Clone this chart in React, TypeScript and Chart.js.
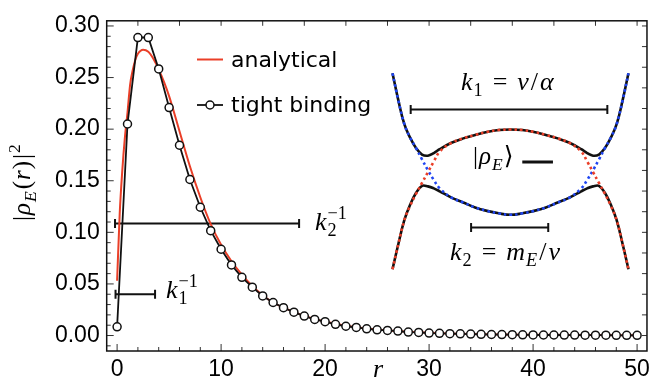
import React, { useEffect, useRef } from "react";
import { Chart, registerables } from "chart.js";

Chart.register(...registerables);

// ---------- main plot data ----------
const tightR = [
  0, 1, 2, 3, 4, 5, 6, 7, 8, 9, 10, 11, 12, 13, 14, 15, 16, 17, 18, 19, 20, 21, 22, 23, 24, 25,
  26, 27, 28, 29, 30, 31, 32, 33, 34, 35, 36, 37, 38, 39, 40, 41, 42, 43, 44, 45, 46, 47, 48, 49, 50,
];
const tightRho = [
  0.0084, 0.205, 0.2888, 0.2888, 0.2584, 0.2209, 0.1844, 0.1512, 0.1243, 0.1016, 0.0836, 0.0684,
  0.0564, 0.0469, 0.0384, 0.032, 0.027, 0.0226, 0.0188, 0.0156, 0.0134, 0.0109, 0.009, 0.0078,
  0.0065, 0.0055, 0.0049, 0.0043, 0.0033, 0.003, 0.0024, 0.0021, 0.0018, 0.0016, 0.0014, 0.0012,
  0.001, 0.0009, 0.0008, 0.0007, 0.0006, 0.0005, 0.0005, 0.0004, 0.0004, 0.0003, 0.0003, 0.0003,
  0.0002, 0.0002, 0.0002,
];
const analyticR = [
  0, 0.25, 0.5, 0.75, 1, 1.25, 1.5, 1.75, 2, 2.5, 3, 3.5, 4, 4.5, 5, 6, 7, 8, 9, 10, 11, 12, 13, 14,
  15, 16, 18, 20, 22, 25, 30, 35, 40, 45, 50,
];
const analyticRho = [
  0.053, 0.118, 0.16, 0.192, 0.216, 0.243, 0.257, 0.267, 0.273, 0.277, 0.275, 0.268, 0.258, 0.246,
  0.232, 0.198, 0.164, 0.134, 0.108, 0.088, 0.072, 0.059, 0.048, 0.039, 0.032, 0.027, 0.019, 0.0135,
  0.0095, 0.0058, 0.0026, 0.0013, 0.0007, 0.0004, 0.0002,
];
const xTickValues = [0, 10, 20, 30, 40, 50];
const yTickValues = [0, 0.05, 0.1, 0.15, 0.2, 0.25, 0.3];

// length-scale markers (r range, level)
const k2InvR = [-0.2, 17.5];
const k2InvLevel = 0.1085;
const k1InvR = [-0.15, 3.65];
const k1InvLevel = 0.04;

// ---------- inset (band sketch) data, in its own k / E units ----------
const insetK = [
  -1, -0.95, -0.9, -0.85, -0.8, -0.75, -0.7, -0.65, -0.6, -0.5, -0.4, -0.3, -0.2, -0.1, 0, 0.1, 0.2,
  0.3, 0.4, 0.5, 0.6, 0.65, 0.7, 0.75, 0.8, 0.85, 0.9, 0.95, 1,
];
const upperBand = [
  1.0, 0.72, 0.48, 0.34, 0.235, 0.17, 0.158, 0.185, 0.225, 0.29, 0.335, 0.37, 0.4, 0.42, 0.425,
  0.42, 0.4, 0.37, 0.335, 0.29, 0.225, 0.185, 0.158, 0.17, 0.235, 0.34, 0.48, 0.72, 1.0,
];
const lowerBand = [
  -1.0, -0.74, -0.5, -0.34, -0.22, -0.15, -0.155, -0.175, -0.205, -0.27, -0.32, -0.37, -0.405,
  -0.43, -0.445, -0.43, -0.405, -0.37, -0.32, -0.27, -0.205, -0.175, -0.155, -0.15, -0.22, -0.34,
  -0.5, -0.74, -1.0,
];
const redBranch = [
  -1.0, -0.74, -0.5, -0.35, -0.23, -0.12, -0.01, 0.1, 0.2, 0.29, 0.335, 0.37, 0.4, 0.42, 0.425,
  0.42, 0.4, 0.37, 0.335, 0.29, 0.2, 0.1, -0.01, -0.12, -0.23, -0.35, -0.5, -0.74, -1.0,
];
const blueBranch = [
  1.0, 0.72, 0.48, 0.34, 0.235, 0.12, 0.01, -0.09, -0.175, -0.27, -0.32, -0.37, -0.405, -0.43,
  -0.445, -0.43, -0.405, -0.37, -0.32, -0.27, -0.175, -0.09, 0.01, 0.12, 0.235, 0.34, 0.48, 0.72,
  1.0,
];
const k1BarK = [-0.846, 0.821];
const k1BarE = 0.63;
const k2BarK = [-0.334, 0.32];
const k2BarE = -0.575;
const levelK = [0.1, 0.36];
const levelE = 0.095;

const SANS = '"Liberation Sans", Arial, sans-serif';
const LEG = '"DejaVu Sans", sans-serif';
const SERIF = '"Liberation Serif", "DejaVu Serif", serif';
const RED = "#ea3f28";
const BLUE = "#1f45f2";
const INK = "#111";

type Seg = { t?: string; it?: boolean; sub?: string; subIt?: boolean; sup?: string; pre?: number };

function drawMath(ctx: CanvasRenderingContext2D, x: number, y: number, segs: Seg[], size: number) {
  let cx = x;
  ctx.textBaseline = "alphabetic";
  ctx.textAlign = "left";
  for (const s of segs) {
    cx += s.pre || 0;
    if (s.t) {
      ctx.font = `${s.it ? "italic " : ""}${size}px ${SERIF}`;
      ctx.fillText(s.t, cx, y);
      cx += ctx.measureText(s.t).width;
    }
    const small = size * 0.7;
    let w = 0;
    if (s.sub) {
      ctx.font = `${s.subIt ? "italic " : ""}${small}px ${SERIF}`;
      ctx.fillText(s.sub, cx + 1, y + size * 0.22);
      w = Math.max(w, ctx.measureText(s.sub).width + 1);
    }
    if (s.sup) {
      ctx.font = `${small}px ${SERIF}`;
      ctx.fillText(s.sup, cx + 1, y - size * 0.42);
      w = Math.max(w, ctx.measureText(s.sup).width + 1);
    }
    cx += w;
  }
  return cx - x;
}

const decorPlugin = {
  id: "decor",
  afterDraw(chart: any) {
    const ctx: CanvasRenderingContext2D = chart.ctx;
    const ca = chart.chartArea;
    const xs = chart.scales.x;
    const ys = chart.scales.y;
    ctx.save();
    // inward ticks
    ctx.strokeStyle = "#333";
    ctx.lineWidth = 1;
    const line = (x1: number, y1: number, x2: number, y2: number) => {
      ctx.beginPath();
      ctx.moveTo(x1, y1);
      ctx.lineTo(x2, y2);
      ctx.stroke();
    };
    for (let i = -1; i <= 30; i++) {
      const py = ys.getPixelForValue(i / 100);
      if (py < ca.top || py > ca.bottom) continue;
      line(ca.left, py, ca.left + (i % 5 === 0 ? 7 : 4), py);
    }
    for (let i = 0; i <= 30; i += 2) {
      const py = ys.getPixelForValue(i / 100);
      if (py < ca.top || py > ca.bottom) continue;
      line(ca.right, py, ca.right - 5, py);
    }
    for (let v = 0; v <= 50; v += 2) {
      const px = xs.getPixelForValue(v);
      line(px, ca.bottom, px, ca.bottom - (v % 10 === 0 ? 7 : 4));
    }
    for (let v = 2; v <= 50; v += 4) {
      const px = xs.getPixelForValue(v);
      line(px, ca.top, px, ca.top + 5);
    }
    // frame
    ctx.strokeStyle = INK;
    ctx.lineWidth = 1.5;
    ctx.strokeRect(ca.left, ca.top, ca.right - ca.left, ca.bottom - ca.top);

    // legend
    const ds = chart.data.datasets;
    ctx.lineWidth = 2;
    ctx.strokeStyle = ds[1].borderColor;
    line(197, 59.5, 223, 59.5);
    ctx.strokeStyle = ds[0].borderColor;
    ctx.lineWidth = 1.8;
    line(197, 105, 223, 105);
    ctx.beginPath();
    ctx.arc(210, 105, 4, 0, Math.PI * 2);
    ctx.fillStyle = "#fff";
    ctx.fill();
    ctx.lineWidth = 1.5;
    ctx.stroke();
    ctx.fillStyle = "#000";
    ctx.font = `22px ${LEG}`;
    ctx.textBaseline = "alphabetic";
    ctx.textAlign = "left";
    ctx.fillText(ds[1].label, 231, 67);
    ctx.fillText(ds[0].label, 231, 112);

    // math annotations
    ctx.fillStyle = "#000";
    drawMath(ctx, 315, 230, [{ t: "k", it: true, sub: "2", sup: "\u22121" }], 26);
    drawMath(ctx, 166, 298, [{ t: "k", it: true, sub: "1", sup: "\u22121" }], 26);
    drawMath(
      ctx,
      461,
      90,
      [
        { t: "k", it: true, sub: "1" },
        { t: "=", pre: 10 },
        { t: "v", it: true, pre: 10 },
        { t: "/", pre: 2 },
        { t: "\u03b1", it: true, pre: 2 },
      ],
      26
    );
    drawMath(
      ctx,
      473,
      164,
      [{ t: "|" }, { t: "\u03c1", it: true, sub: "E", subIt: true, pre: 1 }, { t: "\u27e9", pre: 1 }],
      25
    );
    drawMath(
      ctx,
      450,
      260,
      [
        { t: "k", it: true, sub: "2" },
        { t: "=", pre: 10 },
        { t: "m", it: true, sub: "E", subIt: true, pre: 10 },
        { t: "/", pre: 2 },
        { t: "v", it: true, pre: 2 },
      ],
      26
    );
    drawMath(ctx, 373, 377, [{ t: "r", it: true }], 26);

    // y-axis title (rotated)
    ctx.translate(30, 221);
    ctx.rotate(-Math.PI / 2);
    drawMath(
      ctx,
      0,
      0,
      [
        { t: "|" },
        { t: "\u03c1", it: true, sub: "E", subIt: true, pre: 1 },
        { t: "(", pre: 2 },
        { t: "r", it: true, pre: 1 },
        { t: ")", pre: 1 },
        { t: "|", pre: 2, sup: "2" },
      ],
      25
    );
    ctx.restore();
  },
};

export default function App() {
  const ref = useRef<HTMLCanvasElement | null>(null);

  useEffect(() => {
    if (!ref.current) return;
    const pts = (xs: number[], ys: number[]) => xs.map((x, i) => ({ x, y: ys[i] }));
    const bar = (xs: number[], y: number) => xs.map((x) => ({ x, y }));
    const capStyle = {
      pointStyle: "line",
      pointRotation: 90,
      pointRadius: 4.5,
      pointBorderWidth: 2,
      pointBorderColor: INK,
    };
    const inset = { xAxisID: "x2", yAxisID: "y2" };
    const band = { borderWidth: 2.6, pointRadius: 0, tension: 0.4, ...inset };

    const chart = new Chart(ref.current, {
      type: "line",
      data: {
        datasets: [
          {
            label: "tight binding",
            data: pts(tightR, tightRho),
            borderColor: INK,
            borderWidth: 1.8,
            pointRadius: 4,
            pointBorderWidth: 1.5,
            pointBackgroundColor: "#fff",
            pointBorderColor: INK,
            tension: 0,
          },
          {
            label: "analytical",
            data: pts(analyticR, analyticRho),
            borderColor: RED,
            borderWidth: 2,
            pointRadius: 0,
            cubicInterpolationMode: "monotone",
          },
          { label: "k2inv", data: bar(k2InvR, k2InvLevel), borderColor: INK, borderWidth: 2, ...capStyle },
          { label: "k1inv", data: bar(k1InvR, k1InvLevel), borderColor: INK, borderWidth: 2, ...capStyle },
          { label: "red branch", data: pts(insetK, redBranch), borderColor: RED, borderDash: [2.6, 3], ...band },
          { label: "blue branch", data: pts(insetK, blueBranch), borderColor: BLUE, borderDash: [2.6, 3], ...band },
          { label: "upper band", data: pts(insetK, upperBand), borderColor: INK, ...band },
          { label: "lower band", data: pts(insetK, lowerBand), borderColor: INK, ...band },
          { label: "k1 bar", data: bar(k1BarK, k1BarE), borderColor: INK, borderWidth: 2, ...capStyle, ...inset },
          { label: "k2 bar", data: bar(k2BarK, k2BarE), borderColor: INK, borderWidth: 2, ...capStyle, ...inset },
          { label: "level", data: bar(levelK, levelE), borderColor: INK, borderWidth: 3, pointRadius: 0, ...inset },
        ],
      },
      options: {
        responsive: false,
        animation: false,
        devicePixelRatio: 1,
        events: [],
        layout: { padding: { top: 14, right: 3.3, left: 0, bottom: 0 } },
        plugins: { legend: { display: false }, tooltip: { enabled: false }, title: { display: false } },
        scales: {
          x: {
            type: "linear",
            min: -1.0,
            max: 50.95,
            grid: { display: false, drawTicks: false },
            border: { display: false },
            ticks: { color: "#000", font: { family: SANS, size: 23 }, padding: 5, maxRotation: 0 },
            afterBuildTicks: (s: any) => {
              s.ticks = xTickValues.map((v) => ({ value: v }));
            },
            afterFit: (s: any) => {
              s.height = 32;
            },
          },
          y: {
            type: "linear",
            min: -0.015,
            max: 0.305,
            grid: { display: false, drawTicks: false },
            border: { display: false },
            ticks: {
              color: "#000",
              font: { family: SANS, size: 23 },
              padding: 7,
              callback: (v: any) => Number(v).toFixed(2),
            },
            afterBuildTicks: (s: any) => {
              s.ticks = yTickValues.map((v) => ({ value: v }));
            },
            afterFit: (s: any) => {
              s.width = 106.7;
            },
          },
          x2: { type: "linear", display: false, min: -3.423, max: 1.157 },
          y2: { type: "linear", display: false, min: -1.835, max: 1.535 },
        },
      } as any,
      plugins: [decorPlugin],
    });
    return () => chart.destroy();
  }, []);

  return (
    <div style={{ position: "absolute", left: 0, top: 0, width: 655, height: 383, background: "#fff" }}>
      <canvas ref={ref} width={655} height={383} style={{ width: 655, height: 383, display: "block" }} />
    </div>
  );
}
